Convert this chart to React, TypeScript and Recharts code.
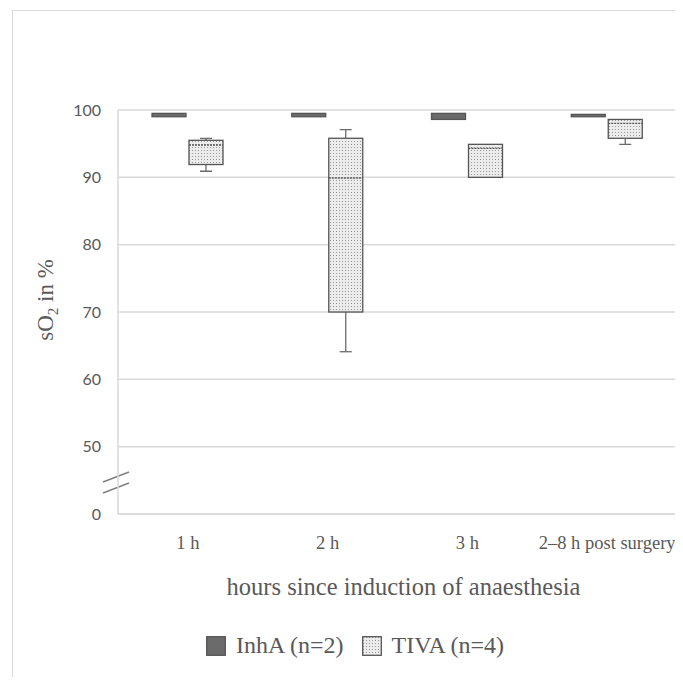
import {
  ComposedChart,
  Bar,
  XAxis,
  YAxis,
  CartesianGrid,
  Legend,
  Customized,
} from "recharts";

const categories = ["1 h", "2 h", "3 h", "2–8 h post surgery"];

// InhA (n=2)
const inhaMin = [99.0, 99.0, 98.6, 99.0];
const inhaQ1 = [99.0, 99.0, 98.6, 99.0];
const inhaMedian = [99.2, 99.2, 99.0, 99.2];
const inhaQ3 = [99.5, 99.5, 99.5, 99.35];
const inhaMax = [99.5, 99.5, 99.5, 99.35];

// TIVA (n=4)
const tivaMin = [90.9, 64.1, 90.0, 94.9];
const tivaQ1 = [91.9, 70.0, 90.0, 95.8];
const tivaMedian = [94.8, 89.9, 94.3, 98.0];
const tivaQ3 = [95.5, 95.8, 94.9, 98.6];
const tivaMax = [95.8, 97.1, 94.9, 98.6];

const yTicks = [40, 50, 60, 70, 80, 90, 100];

const data = categories.map((cat, i) => ({
  cat,
  inha: [inhaMin[i], inhaMax[i]],
  inhaQ1: inhaQ1[i],
  inhaMedian: inhaMedian[i],
  inhaQ3: inhaQ3[i],
  tiva: [tivaMin[i], tivaMax[i]],
  tivaQ1: tivaQ1[i],
  tivaMedian: tivaMedian[i],
  tivaQ3: tivaQ3[i],
}));

const grey = "#d9d9d9";
const textGrey = "#595959";
const serif = "'Liberation Serif', 'Times New Roman', serif";

function makeBox(prefix: string, fill: string, medianDash?: string) {
  return (props: any) => {
    const { x, y, width, height, payload } = props;
    const [lo, hi] = payload[prefix];
    const top = Math.min(y, y + height);
    const h = Math.abs(height);
    const py = (v: number) => top + ((hi - v) / (hi - lo)) * h;
    const q1 = py(payload[prefix + "Q1"]);
    const q3 = py(payload[prefix + "Q3"]);
    const med = py(payload[prefix + "Median"]);
    const cx = x + width / 2;
    const cap = 6;
    return (
      <g>
        {hi > payload[prefix + "Q3"] && (
          <g stroke="#6b6b6b" strokeWidth={1.3}>
            <line x1={cx} x2={cx} y1={top} y2={q3} />
            <line x1={cx - cap} x2={cx + cap} y1={top} y2={top} />
          </g>
        )}
        {lo < payload[prefix + "Q1"] && (
          <g stroke="#6b6b6b" strokeWidth={1.3}>
            <line x1={cx} x2={cx} y1={q1} y2={top + h} />
            <line x1={cx - cap} x2={cx + cap} y1={top + h} y2={top + h} />
          </g>
        )}
        <rect
          x={x}
          y={q3}
          width={width}
          height={Math.max(q1 - q3, 1)}
          fill={fill}
          stroke="#555555"
          strokeWidth={1.3}
        />
        {medianDash !== undefined && (
          <line
            x1={x}
            x2={x + width}
            y1={med}
            y2={med}
            stroke="#555555"
            strokeWidth={1.3}
            strokeDasharray={medianDash}
          />
        )}
      </g>
    );
  };
}

const InhaBox = makeBox("inha", "#6b6b6b");
const TivaBox = makeBox("tiva", "url(#tivaDots)", "2 1");

function BreakMark() {
  return (
    <g>
      <polygon points="95,474 121,464 121,475 95,485" fill="#ffffff" />
      <line x1={95} y1={474} x2={121} y2={464} stroke="#7f7f7f" strokeWidth={1.4} />
      <line x1={95} y1={485} x2={121} y2={475} stroke="#7f7f7f" strokeWidth={1.4} />
    </g>
  );
}

function LegendBox() {
  const sw = (fill: string) => (
    <svg width={20} height={20} style={{ display: "block" }}>
      <rect x={0.7} y={0.7} width={18.6} height={18.6} fill={fill} stroke="#555555" strokeWidth={1.3} />
    </svg>
  );
  return (
    <div
      style={{
        display: "flex",
        alignItems: "center",
        fontFamily: serif,
        fontSize: 24,
        color: textGrey,
        whiteSpace: "nowrap",
      }}
    >
      {sw("#6b6b6b")}
      <span style={{ marginLeft: 10 }}>InhA (n=2)</span>
      <span style={{ marginLeft: 18 }} />
      {sw("url(#tivaDots)")}
      <span style={{ marginLeft: 10 }}>TIVA (n=4)</span>
    </div>
  );
}

export default function App() {
  return (
    <div style={{ position: "relative", width: 670, height: 670 }}>
      <svg width={0} height={0} style={{ position: "absolute" }}>
        <defs>
          <pattern id="tivaDots" width={3} height={3} patternUnits="userSpaceOnUse">
            <rect width={3} height={3} fill="#ececec" />
            <rect x={1} y={1} width={1} height={1} fill="#9a9a9a" />
          </pattern>
        </defs>
      </svg>
      <div
        style={{
          position: "absolute",
          left: 4,
          top: 2,
          width: 664,
          height: 666,
          borderTop: `1px solid ${grey}`,
          borderLeft: `1px solid ${grey}`,
        }}
      />
      <ComposedChart
        width={670}
        height={670}
        data={data}
        margin={{ top: 102, right: 1, left: 0, bottom: 79 }}
        barSize={34}
        barGap={3}
        barCategoryGap={34}
      >
        <CartesianGrid vertical={false} stroke={grey} strokeWidth={1.5} />
        <XAxis
          dataKey="cat"
          height={85}
          axisLine={{ stroke: grey, strokeWidth: 1.5 }}
          tickLine={false}
          tickMargin={16}
          tick={{ fill: textGrey, fontFamily: serif, fontSize: 18.5 }}
          interval={0}
          label={{
            content: (p: any) => (
              <text
                x={p.viewBox.x + p.viewBox.width / 2 + 6}
                y={p.viewBox.y + 81}
                textAnchor="middle"
                fill={textGrey}
                fontFamily={serif}
                fontSize={24.5}
              >
                hours since induction of anaesthesia
              </text>
            ),
          }}
        />
        <YAxis
          type="number"
          width={110}
          domain={[40, 100]}
          ticks={yTicks}
          allowDataOverflow
          axisLine={{ stroke: grey, strokeWidth: 1.5 }}
          tickLine={false}
          tickMargin={11}
          tickFormatter={(v: number) => (v === 40 ? "0" : String(v))}
          tick={{ fill: textGrey, fontFamily: "Lato, 'Open Sans', sans-serif", fontSize: 16 }}
          label={{
            content: () => (
              <text
                x={45}
                y={292}
                transform="rotate(-90, 45, 292)"
                textAnchor="middle"
                fill={textGrey}
                fontFamily={serif}
                fontSize={23}
              >
                sO
                <tspan fontSize={15} dy={5}>2</tspan>
                <tspan dy={-5}> in %</tspan>
              </text>
            ),
          }}
        />
        <Bar dataKey="inha" name="InhA (n=2)" fill="#6b6b6b" shape={InhaBox} isAnimationActive={false} />
        <Bar dataKey="tiva" name="TIVA (n=4)" fill="url(#tivaDots)" shape={TivaBox} isAnimationActive={false} />
        <Customized component={BreakMark} />
        <Legend
          layout="horizontal"
          verticalAlign="middle"
          align="center"
          content={<LegendBox />}
          wrapperStyle={{ top: 624, left: 198, width: "auto" }}
        />
      </ComposedChart>
    </div>
  );
}
